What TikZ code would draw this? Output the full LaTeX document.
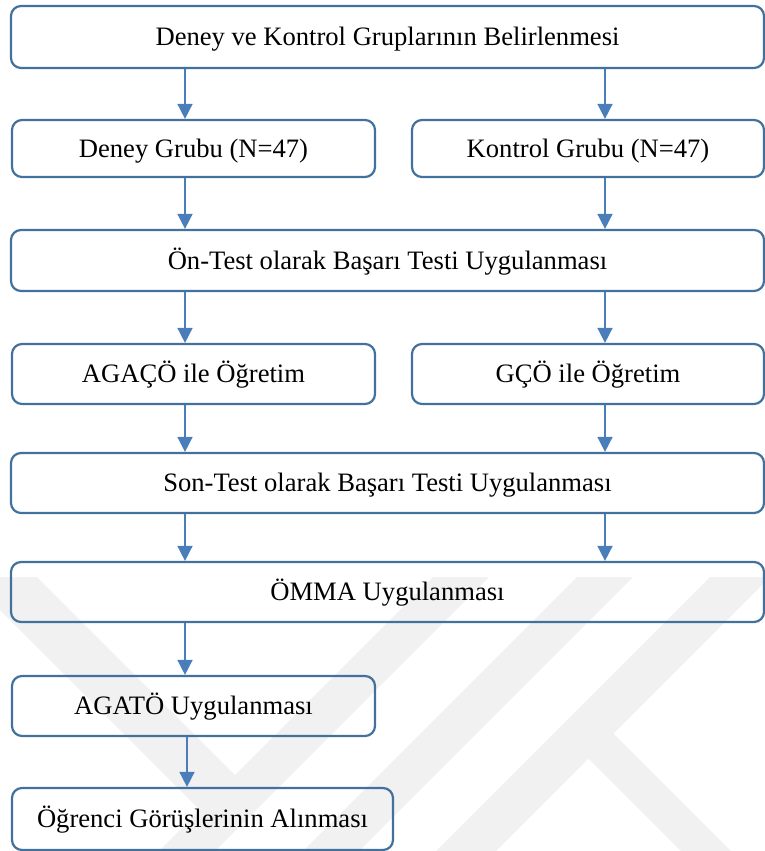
\documentclass[tikz,border=0pt]{standalone}
\usepackage{fontspec}
\setmainfont{Liberation Serif}
\usetikzlibrary{arrows.meta}
\definecolor{boxline}{RGB}{65,113,156}
\definecolor{arrowblue}{RGB}{74,126,187}
\definecolor{wmark}{RGB}{241,241,241}

\begin{document}
\begin{tikzpicture}[x=1pt,y=-1pt,
  box/.style={draw=boxline, line width=2.2pt, rounded corners=10pt,
    inner sep=0pt, text height=17.6pt, text depth=0pt,
    font=\fontsize{26.6}{32}\selectfont},
  wide/.style={box, minimum width=753pt},
  half/.style={box, minimum width=363pt},
  halfr/.style={box, minimum width=352pt},
  flow/.style={draw=arrowblue, line width=1.6pt,
    -{Triangle[width=15pt,length=15pt]}}]
\useasboundingbox (0,0) rectangle (765,851);
\clip (0,0) rectangle (765,851);

% faint background emblem
\fill[wmark] (-33,577) -- (37,577) -- (263,803) -- (200,810) -- cycle;
\fill[wmark] (433,577) -- (489,577) -- (215,851) -- (159,851) -- cycle;
\fill[wmark] (577,577) -- (633,577) -- (359,851) -- (303,851) -- cycle;
\fill[wmark] (710,577) -- (770,577) -- (496,851) -- (436,851) -- cycle;
\fill[wmark] (603,723) -- (731,851) -- (681,851) -- (578,748) -- cycle;

% boxes
\node[wide, minimum height=62pt] (b1) at (387.5,37) {Deney ve Kontrol Gruplarının Belirlenmesi};
\node[half, minimum height=57pt] (dg) at (193.5,148.5) {Deney Grubu (N=47)};
\node[halfr, minimum height=57pt] (kg) at (588,148.5) {Kontrol Grubu (N=47)};
\node[wide, minimum height=61pt] (on) at (387.5,260.5) {Ön-Test olarak Başarı Testi Uygulanması};
\node[half, minimum height=60pt] (ag) at (193.5,374) {AGAÇÖ ile Öğretim};
\node[halfr, minimum height=60pt] (gc) at (588,374) {GÇÖ ile Öğretim};
\node[wide, minimum height=60pt] (son) at (387.5,483) {Son-Test olarak Başarı Testi Uygulanması};
\node[wide, minimum height=60pt] (om) at (387.5,592) {ÖMMA Uygulanması};
\node[half, minimum height=60pt] (at) at (193.5,706) {AGATÖ Uygulanması};
\node[box, minimum width=381pt, minimum height=62pt] (og) at (202.5,819) {Öğrenci Görüşlerinin Alınması};

% arrow columns
\coordinate (xl) at (185,0);
\coordinate (xr) at (605,0);
\coordinate (xb) at (187,0);

\draw[flow] (b1.south -| xl) -- (dg.north -| xl);
\draw[flow] (b1.south -| xr) -- (kg.north -| xr);
\draw[flow] (dg.south -| xl) -- (on.north -| xl);
\draw[flow] (kg.south -| xr) -- (on.north -| xr);
\draw[flow] (on.south -| xl) -- (ag.north -| xl);
\draw[flow] (on.south -| xr) -- (gc.north -| xr);
\draw[flow] (ag.south -| xl) -- (son.north -| xl);
\draw[flow] (gc.south -| xr) -- (son.north -| xr);
\draw[flow] (son.south -| xl) -- (om.north -| xl);
\draw[flow] (son.south -| xr) -- (om.north -| xr);
\draw[flow] (om.south -| xl) -- (at.north -| xl);
\draw[flow] (at.south -| xb) -- (og.north -| xb);
\end{tikzpicture}
\end{document}
